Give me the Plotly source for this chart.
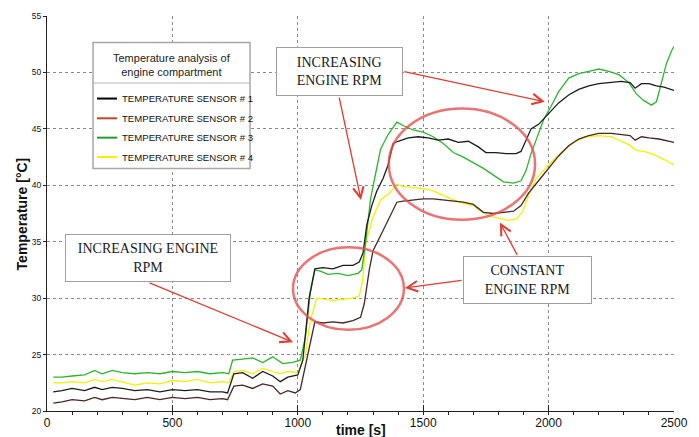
import plotly.graph_objects as go

# ---------------- data ----------------
t_s1 = [25, 60, 100, 150, 190, 220, 260, 300, 350, 400, 450, 500, 550, 600, 650, 700, 720, 745,
        780, 820, 860, 900, 930, 960, 1000, 1020, 1045, 1068, 1100, 1140, 1180, 1220, 1245, 1260,
        1275, 1295, 1315, 1340, 1360, 1380, 1400, 1440, 1480, 1520, 1560, 1600, 1640, 1680, 1720,
        1750, 1790, 1830, 1870, 1890, 1910, 1930, 1960, 2000, 2040, 2080, 2120, 2160, 2200, 2240,
        2290, 2325, 2345, 2370, 2400, 2430, 2460, 2500]
T_s1 = [21.7, 21.8, 22.0, 21.8, 22.1, 21.9, 22.1, 22.0, 21.8, 21.9, 21.7, 21.9, 21.8, 21.9, 21.7,
        21.7, 21.6, 23.3, 23.4, 22.9, 23.5, 23.1, 22.6, 23.0, 23.2, 24.5, 30.0, 32.6, 32.7, 32.6,
        32.9, 32.9, 33.2, 34.0, 36.5, 38.2, 39.5, 40.6, 41.8, 43.7, 43.9, 44.2, 44.3, 44.2, 44.0,
        44.1, 43.8, 43.9, 43.4, 42.9, 42.9, 42.8, 42.8, 43.0, 44.0, 45.0, 45.4, 46.4, 47.3, 48.0,
        48.5, 48.8, 49.0, 49.1, 49.2, 49.1, 48.6, 49.0, 49.0, 48.8, 48.7, 48.4]

t_s2 = [25, 60, 100, 150, 190, 220, 260, 300, 350, 400, 450, 500, 550, 600, 650, 700, 720, 745,
        780, 820, 860, 900, 930, 960, 990, 1010, 1040, 1068, 1100, 1140, 1180, 1220, 1250, 1265,
        1285, 1300, 1340, 1370, 1395, 1420, 1460, 1500, 1540, 1580, 1620, 1660, 1700, 1740, 1780,
        1820, 1860, 1890, 1920, 1960, 2000, 2040, 2080, 2120, 2160, 2200, 2250, 2290, 2325, 2345,
        2370, 2400, 2440, 2500]
T_s2 = [20.7, 20.8, 21.0, 20.9, 21.2, 21.0, 21.2, 21.1, 21.0, 21.2, 21.0, 21.2, 21.1, 21.2, 21.0,
        21.1, 21.0, 22.2, 22.3, 22.0, 22.4, 22.2, 21.5, 21.8, 21.6, 21.9, 25.0, 27.9, 27.8, 27.9,
        27.8, 28.0, 28.3, 29.5, 32.5, 34.2, 36.0, 37.3, 38.5, 38.6, 38.7, 38.8, 38.8, 38.7, 38.6,
        38.5, 38.3, 37.6, 37.5, 37.6, 37.7, 38.2, 39.3, 40.4, 41.5, 42.6, 43.5, 44.1, 44.4, 44.6,
        44.6, 44.5, 44.4, 44.0, 44.3, 44.2, 44.1, 43.8]

t_s3 = [25, 60, 100, 150, 190, 220, 260, 300, 350, 400, 450, 500, 550, 600, 650, 700, 725, 740,
        780, 820, 860, 900, 940, 980, 1010, 1030, 1050, 1068, 1090, 1120, 1160, 1200, 1240, 1255,
        1270, 1290, 1310, 1330, 1360, 1395, 1420, 1460, 1500, 1540, 1580, 1620, 1660, 1700, 1740,
        1780, 1820, 1860, 1890, 1910, 1930, 1950, 1980, 2010, 2040, 2080, 2120, 2160, 2200, 2240,
        2280, 2320, 2350, 2380, 2410, 2430, 2450, 2470, 2490, 2500]
T_s3 = [23.0, 23.0, 23.1, 23.2, 23.6, 23.3, 23.6, 23.4, 23.3, 23.4, 23.3, 23.5, 23.4, 23.5, 23.3,
        23.4, 23.3, 24.5, 24.6, 24.7, 24.3, 24.8, 24.2, 24.3, 24.5, 26.5, 30.5, 32.5, 32.4, 32.1,
        32.2, 32.0, 32.2, 32.5, 34.8, 38.8, 41.0, 43.2, 44.5, 45.6, 45.3, 44.9, 44.7, 44.3, 43.7,
        42.9, 42.5, 42.0, 41.5, 40.9, 40.3, 40.2, 40.4, 41.3, 42.8, 44.0, 45.8, 47.0, 48.3, 49.5,
        49.9, 50.1, 50.3, 50.1, 49.8, 49.1, 48.1, 47.5, 47.1, 47.4, 49.0, 50.8, 51.9, 52.3]

t_s4 = [25, 60, 100, 150, 190, 220, 260, 300, 350, 400, 450, 500, 550, 600, 650, 700, 725, 745,
        780, 820, 860, 900, 930, 960, 1000, 1030, 1050, 1075, 1100, 1140, 1180, 1220, 1245, 1258,
        1272, 1300, 1330, 1365, 1395, 1420, 1460, 1500, 1540, 1580, 1620, 1660, 1700, 1730, 1760,
        1800, 1840, 1870, 1895, 1915, 1950, 2000, 2050, 2100, 2150, 2200, 2250, 2290, 2320, 2350,
        2380, 2410, 2450, 2500]
T_s4 = [22.5, 22.5, 22.6, 22.5, 22.8, 22.6, 22.8, 22.6, 22.3, 22.5, 22.4, 22.7, 22.6, 22.8, 22.5,
        22.6, 22.5, 23.5, 23.6, 23.3, 23.8, 23.5, 23.3, 23.5, 23.4, 25.0, 28.0, 30.0, 29.9, 29.8,
        29.9, 30.0, 30.2, 31.5, 35.0, 37.2, 38.7, 39.3, 40.1, 39.9, 39.8, 39.7, 39.5, 39.1, 38.7,
        38.4, 38.2, 37.7, 37.3, 37.1, 36.9, 37.0, 37.6, 38.8, 40.6, 41.8, 42.9, 43.8, 44.3, 44.4,
        44.3, 43.9, 43.6, 43.1, 43.0, 42.8, 42.4, 41.8]

series_names = ["TEMPERATURE SENSOR # 1", "TEMPERATURE SENSOR # 2",
                "TEMPERATURE SENSOR # 3", "TEMPERATURE SENSOR # 4"]
line_colors = ["#1c1c1c", "#4a2626", "#2db52d", "#f2f200"]
legend_colors = ["#000000", "#c8461e", "#22a022", "#ffee00"]
legend_title = "Temperature analysis of<br>engine compartment"

x_ticks = [0, 500, 1000, 1500, 2000, 2500]
y_ticks = [20, 25, 30, 35, 40, 45, 50, 55]

# ---------------- figure ----------------
fig = go.Figure()
series_t = [t_s1, t_s2, t_s3, t_s4]
series_T = [T_s1, T_s2, T_s3, T_s4]
order = [3, 2, 0, 1]  # draw order
for i in order:
    fig.add_trace(go.Scatter(x=series_t[i], y=series_T[i], mode="lines",
                             name=series_names[i], showlegend=False,
                             line=dict(color=line_colors[i], width=1.3)))

SERIF = "Liberation Serif, Times New Roman, serif"
SANS = "Liberation Sans, Arial, sans-serif"

fig.update_layout(
    width=699, height=437,
    margin=dict(l=47, r=25, t=16, b=26),
    paper_bgcolor="white", plot_bgcolor="white",
    template="none",
    showlegend=False,
    xaxis=dict(range=[0, 2500], tickvals=x_ticks, ticks="inside", ticklen=6,
               tickcolor="#222", showline=True, linecolor="#222", linewidth=1.3,
               showgrid=True, gridcolor="#8a8a8a", griddash="dot", gridwidth=1,
               zeroline=False, automargin=False,
               tickfont=dict(family=SANS, size=12, color="#111"),
               minor=dict(dtick=100, ticks="outside", ticklen=3, tickcolor="#222",
                          showgrid=False)),
    yaxis=dict(range=[20, 55], tickvals=y_ticks, ticks="outside", ticklen=3,
               tickcolor="#222", showline=True, linecolor="#222", linewidth=1.3,
               showgrid=True, gridcolor="#8a8a8a", griddash="dot", gridwidth=1,
               zeroline=False, automargin=False,
               tickfont=dict(family=SANS, size=8.5, color="#111")),
)

# axis titles
fig.add_annotation(text="<b>time [s]</b>", xref="paper", yref="paper", x=0.5, y=-0.049,
                   xanchor="center", yanchor="middle", showarrow=False,
                   font=dict(family=SANS, size=14, color="#111"))
fig.add_annotation(text="<b>Temperature [°C]</b>", xref="paper", yref="paper", x=-0.04, y=0.5,
                   xanchor="center", yanchor="middle", textangle=-90, showarrow=False,
                   font=dict(family=SANS, size=14, color="#111"))

# manual legend
fig.add_shape(type="rect", xref="paper", yref="paper", x0=0.0734, x1=0.3238, y0=0.6137, y1=0.9327,
              line=dict(color="#a8a8a8", width=1.5), fillcolor="white", layer="above")
fig.add_shape(type="line", xref="paper", yref="paper", x0=0.0734, x1=0.3238, y0=0.8304, y1=0.8304,
              line=dict(color="#b8b8b8", width=1.2), layer="above")
fig.add_annotation(text=legend_title, xref="paper", yref="paper", x=0.1986, y=0.877,
                   xanchor="center", yanchor="middle", showarrow=False,
                   font=dict(family=SANS, size=11, color="#222"))
item_y = [0.791, 0.741, 0.692, 0.643]
for name, col, yy in zip(series_names, legend_colors, item_y):
    fig.add_shape(type="line", xref="paper", yref="paper", x0=0.0797, x1=0.1116, y0=yy, y1=yy,
                  line=dict(color=col, width=2), layer="above")
    fig.add_annotation(text=name, xref="paper", yref="paper", x=0.1165, y=yy,
                       xanchor="left", yanchor="middle", showarrow=False,
                       font=dict(family=SANS, size=9.6, color="#111"))

# ellipses
ell_color = "rgba(232,80,80,0.8)"
fig.add_shape(type="circle", xref="x", yref="y", x0=981, x1=1423, y0=27.2, y1=34.5,
              line=dict(color=ell_color, width=2.5))
fig.add_shape(type="circle", xref="x", yref="y", x0=1363, x1=1946, y0=36.95, y1=46.8,
              line=dict(color=ell_color, width=2.5))

# arrows (head x,y ; tail ax,ay)
arrow_color = "#e53a30"
arrows = [
    (981, 26.1, 403, 31.4),
    (1252, 38.7, 1164, 47.9),
    (1985, 47.4, 1419, 50.1),
    (1806, 36.7, 1878, 33.7),
    (1427, 30.9, 1659, 31.6),
]
for hx, hy, tx, ty in arrows:
    fig.add_annotation(x=hx, y=hy, ax=tx, ay=ty, xref="x", yref="y", axref="x", ayref="y",
                       text="", showarrow=True, arrowhead=5, arrowsize=1.6, arrowwidth=1.3,
                       arrowcolor=arrow_color)

# text boxes
boxes = [
    ("INCREASING ENGINE<br>RPM", 403, 33.52, 164, 46),
    ("INCREASING<br>ENGINE RPM", 1166, 50.06, 125, 47),
    ("CONSTANT<br>ENGINE RPM", 1916, 31.58, 127, 46),
]
for txt, bx, by, w, h in boxes:
    fig.add_annotation(text=txt, x=bx, y=by, xref="x", yref="y", showarrow=False,
                       xanchor="center", yanchor="middle", width=w, height=h,
                       bgcolor="white", bordercolor="#a0a0a0", borderwidth=1, borderpad=0,
                       font=dict(family=SERIF, size=14, color="#1a1a1a"))

fig.write_html("out.html", config={"displayModeBar": False},
               post_script="document.body.style.margin='0';document.body.style.overflow='hidden';")
